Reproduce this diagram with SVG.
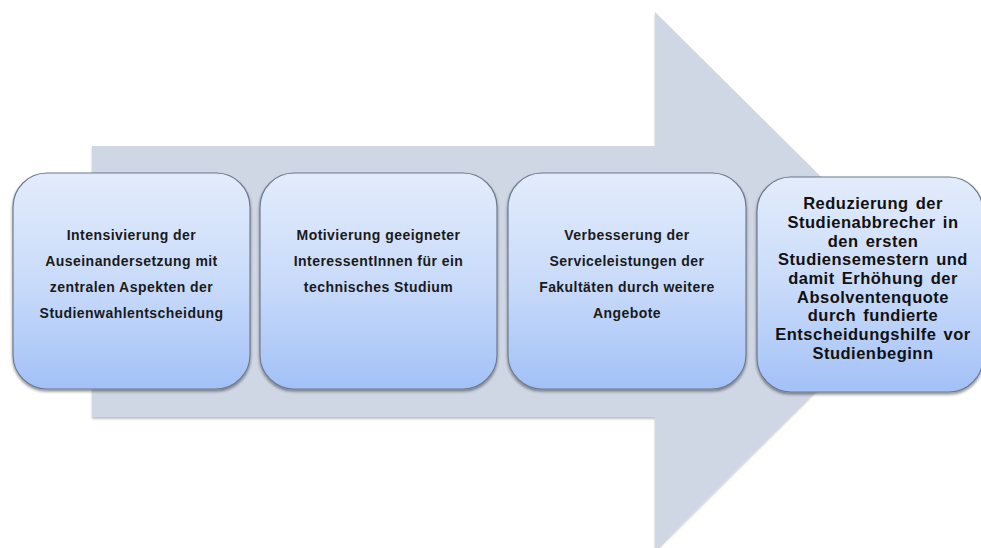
<svg xmlns="http://www.w3.org/2000/svg" width="981" height="548" viewBox="0 0 981 548">
  <defs>
    <linearGradient id="boxGrad" x1="0" y1="0" x2="0" y2="1">
      <stop offset="0" stop-color="#E3ECFC"/>
      <stop offset="0.5" stop-color="#C9DBFA"/>
      <stop offset="1" stop-color="#A3C1F7"/>
    </linearGradient>
    <filter id="shadow" x="-10%" y="-10%" width="120%" height="125%">
      <feGaussianBlur in="SourceAlpha" stdDeviation="1.5"/>
      <feOffset dx="0" dy="2" result="b"/>
      <feComponentTransfer><feFuncA type="linear" slope="0.45"/></feComponentTransfer>
      <feMerge><feMergeNode/><feMergeNode in="SourceGraphic"/></feMerge>
    </filter>
    <filter id="ashadow" x="-5%" y="-5%" width="110%" height="110%">
      <feGaussianBlur in="SourceAlpha" stdDeviation="1"/>
      <feOffset dx="0" dy="1.5"/>
      <feComponentTransfer><feFuncA type="linear" slope="0.25"/></feComponentTransfer>
      <feMerge><feMergeNode/><feMergeNode in="SourceGraphic"/></feMerge>
    </filter>
  </defs>
  <style>
    .box { fill: url(#boxGrad); stroke: #6E7B8E; stroke-width: 1.2; filter: url(#shadow); }
    .t { font-family: "Liberation Sans", Arial, sans-serif; font-weight: bold; font-size: 14px; letter-spacing: 0.45px; fill: #1A1A1A; text-anchor: middle; }
    .t4 { font-family: "Liberation Sans", Arial, sans-serif; font-weight: bold; font-size: 16.5px; letter-spacing: 0.5px; word-spacing: 2px; fill: #111111; text-anchor: middle; }
  </style>
  <rect width="981" height="548" fill="#FFFFFF"/>
  <g id="connectors">
    <polygon id="bigArrow" points="92,146 655,146 655,12 926,281 655,550 655,417 92,417" fill="#CFD6E4" filter="url(#ashadow)"/>
  </g>
  <g id="node1">
    <rect class="box" x="13" y="173" width="237" height="216" rx="34" ry="34"/>
    <text class="t" x="131.5" y="240">Intensivierung der</text>
    <text class="t" x="131.5" y="266">Auseinandersetzung mit</text>
    <text class="t" x="131.5" y="292">zentralen Aspekten der</text>
    <text class="t" x="131.5" y="318">Studienwahlentscheidung</text>
  </g>
  <g id="node2">
    <rect class="box" x="260" y="173" width="237" height="216" rx="34" ry="34"/>
    <text class="t" x="378.5" y="240">Motivierung geeigneter</text>
    <text class="t" x="378.5" y="266">InteressentInnen für ein</text>
    <text class="t" x="378.5" y="292">technisches Studium</text>
  </g>
  <g id="node3">
    <rect class="box" x="508" y="173" width="238" height="216" rx="34" ry="34"/>
    <text class="t" x="627" y="240">Verbesserung der</text>
    <text class="t" x="627" y="266">Serviceleistungen der</text>
    <text class="t" x="627" y="292">Fakultäten durch weitere</text>
    <text class="t" x="627" y="318">Angebote</text>
  </g>
  <g id="node4">
    <rect class="box" x="757" y="177" width="226" height="215" rx="34" ry="34"/>
    <text class="t4" x="873" y="209">Reduzierung der</text>
    <text class="t4" x="873" y="228">Studienabbrecher in</text>
    <text class="t4" x="873" y="247">den ersten</text>
    <text class="t4" x="873" y="265">Studiensemestern und</text>
    <text class="t4" x="873" y="284">damit Erhöhung der</text>
    <text class="t4" x="873" y="303">Absolventenquote</text>
    <text class="t4" x="873" y="321">durch fundierte</text>
    <text class="t4" x="873" y="340">Entscheidungshilfe vor</text>
    <text class="t4" x="873" y="359">Studienbeginn</text>
  </g>
</svg>
